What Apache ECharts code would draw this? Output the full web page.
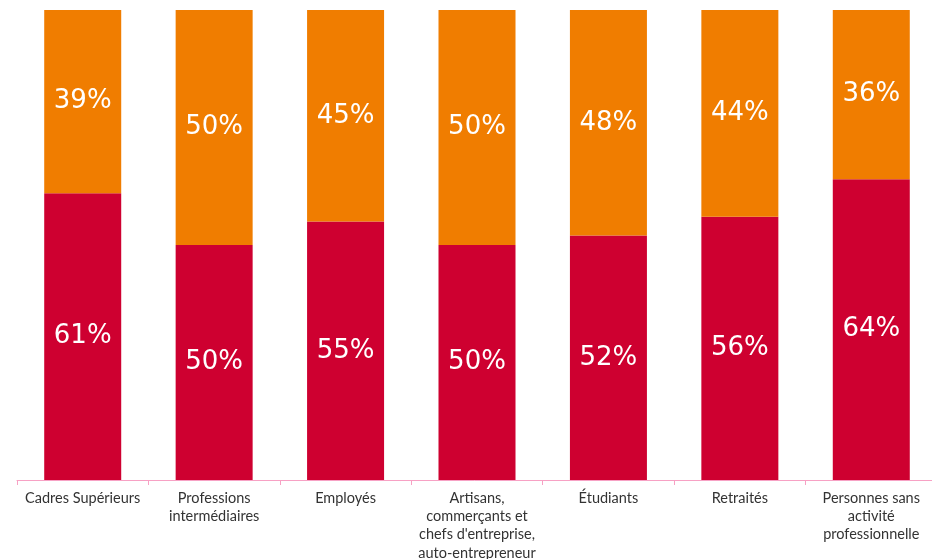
<!DOCTYPE html>
<html><head><meta charset="utf-8">
<script src="https://cdn.jsdelivr.net/npm/echarts@6/dist/echarts.min.js"></script>
<style>html,body{margin:0;padding:0;background:#fff}#c{width:932px;height:559px}</style>
</head><body><div id="c"></div>
<script>
const categories = ["Cadres Supérieurs","Professions\nintermédiaires","Employés","Artisans,\ncommerçants et\nchefs d'entreprise,\nauto-entrepreneur","Étudiants","Retraités","Personnes sans\nactivité\nprofessionnelle"];
const redValues = [61,50,55,50,52,56,64];
const orangeValues = [39,50,45,50,48,44,36];
const chart = echarts.init(document.getElementById('c'));
const lbl = {show:true,position:'inside',color:'#fff',fontFamily:'DejaVu Sans',fontSize:26,formatter:p=>p.value+'%'};
chart.setOption({
  animation:false,
  grid:{left:17,top:10,width:920,bottom:79,containLabel:false,outerBoundsMode:'none'},
  xAxis:{type:'category',data:categories,
    axisLine:{lineStyle:{color:'#F7A1C4',width:1}},
    axisTick:{show:true,length:5,lineStyle:{color:'#F7A1C4'}},
    axisLabel:{interval:0,color:'#333',fontFamily:'Lato',fontSize:14.5,lineHeight:18.3,margin:9}},
  yAxis:{type:'value',min:0,max:100,show:false,splitLine:{show:false}},
  series:[
    {type:'bar',stack:'s',data:redValues,barWidth:77,itemStyle:{color:'#CE0030'},label:lbl},
    {type:'bar',stack:'s',data:orangeValues,barWidth:77,itemStyle:{color:'#F07D00'},label:lbl}
  ]
});
</script></body></html>
